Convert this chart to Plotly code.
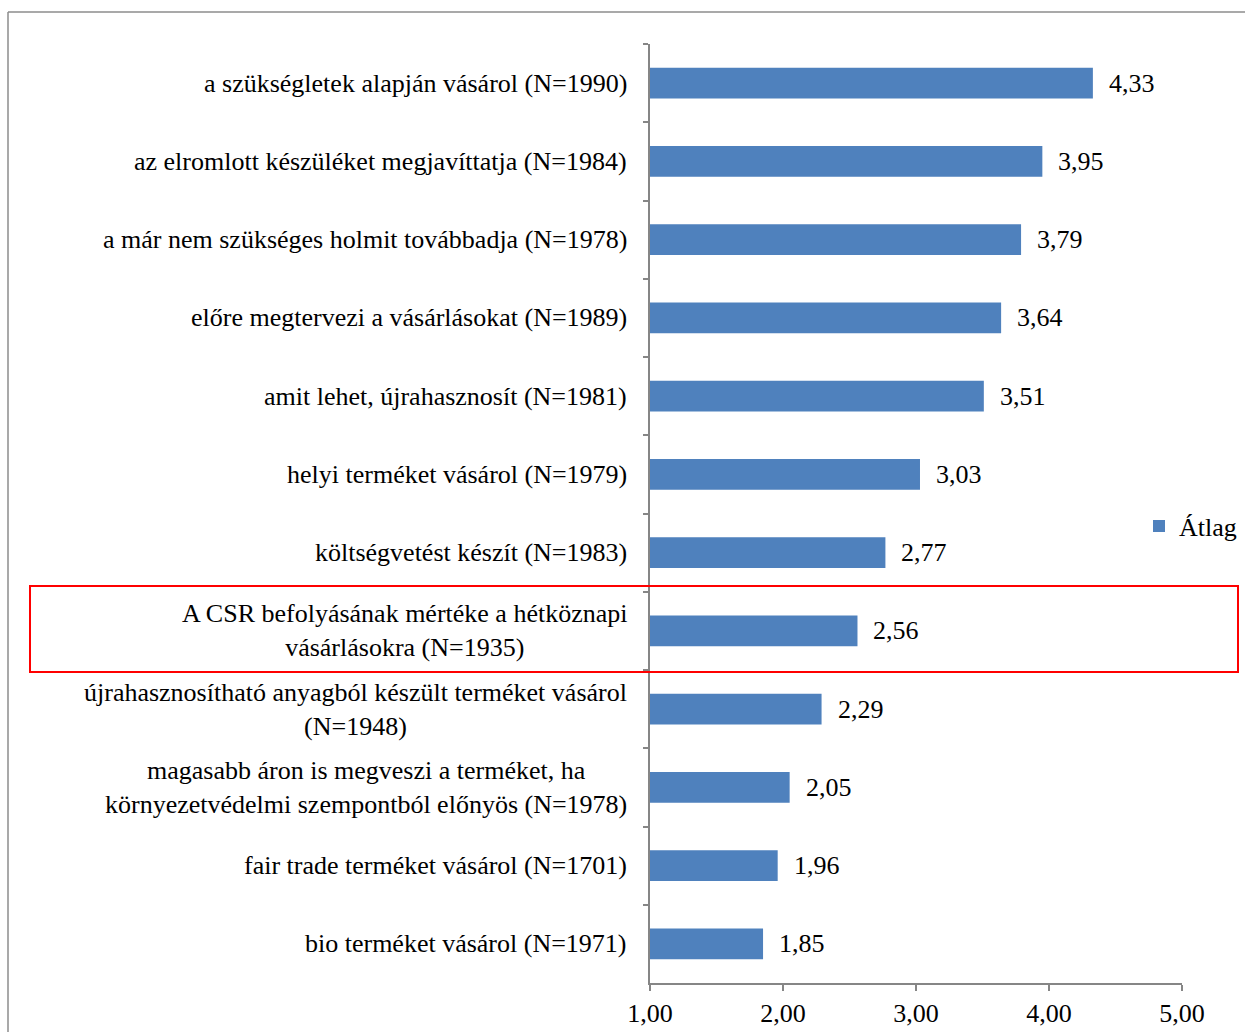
import plotly.graph_objects as go

categories = [
    "a szükségletek alapján vásárol (N=1990)",
    "az elromlott készüléket megjavíttatja (N=1984)",
    "a már nem szükséges holmit továbbadja (N=1978)",
    "előre megtervezi a vásárlásokat (N=1989)",
    "amit lehet, újrahasznosít (N=1981)",
    "helyi terméket vásárol (N=1979)",
    "költségvetést készít (N=1983)",
    "A CSR befolyásának mértéke a hétköznapi<br>vásárlásokra (N=1935)",
    "újrahasznosítható anyagból készült terméket vásárol<br>(N=1948)",
    "magasabb áron is megveszi a terméket, ha<br>környezetvédelmi szempontból előnyös (N=1978)",
    "fair trade terméket vásárol (N=1701)",
    "bio terméket vásárol (N=1971)",
]
values = [4.33, 3.95, 3.79, 3.64, 3.51, 3.03, 2.77, 2.56, 2.29, 2.05, 1.96, 1.85]
series_name = "Átlag"
x_ticks = [1, 2, 3, 4, 5]
highlight = "A CSR befolyásának mértéke a hétköznapi<br>vásárlásokra (N=1935)"

FONT = "Liberation Serif, Times New Roman, serif"
FS = 26
W, H = 1245, 1032
ML, MR, MT, MB = 650, 63, 44, 49
pw, ph = W - ML - MR, H - MT - MB

def px_x(x):
    return (x - ML) / pw

def px_y(y):
    return (H - MB - y) / ph

fig = go.Figure()
fig.add_trace(go.Bar(
    x=values, y=categories, orientation="h", name=series_name,
    marker=dict(color="#4F81BD", line=dict(width=0)),
    showlegend=True,
))

annotations = []
for c, v in zip(categories, values):
    annotations.append(dict(
        x=v, y=c, xref="x", yref="y", text=f"{v:.2f}".replace(".", ","),
        showarrow=False, xanchor="left", xshift=14,
        font=dict(family=FONT, size=FS, color="black"),
    ))
    annotations.append(dict(
        x=0, y=c, xref="paper", yref="y", text=c,
        showarrow=False, xanchor="right", xshift=-21, align="center",
        font=dict(family=FONT, size=FS, color="black"),
    ))

shapes = [
    # outer frame
    dict(type="line", xref="paper", yref="paper", x0=px_x(8), x1=px_x(1260),
         y0=px_y(12), y1=px_y(12), line=dict(color="#8C8C8C", width=1.5)),
    dict(type="line", xref="paper", yref="paper", x0=px_x(8), x1=px_x(8),
         y0=px_y(12), y1=px_y(1040), line=dict(color="#8C8C8C", width=1.5)),
    # highlight box
    dict(type="rect", xref="paper", yref="paper", x0=px_x(30), x1=px_x(1238),
         y0=px_y(586), y1=px_y(672), line=dict(color="#FF0000", width=2),
         fillcolor="rgba(0,0,0,0)"),
]

fig.update_layout(
    width=W, height=H,
    margin=dict(l=ML, r=MR, t=MT, b=MB, autoexpand=False),
    paper_bgcolor="white", plot_bgcolor="white",
    separators=", ",
    bargap=0.61,
    font=dict(family=FONT, size=FS, color="black"),
    xaxis=dict(
        range=[1, 5], tickvals=x_ticks, tickformat=".2f",
        showgrid=False, zeroline=False,
        showline=True, linecolor="#868686", linewidth=1.5,
        ticks="outside", ticklen=6, tickcolor="#868686", tickwidth=1.5,
        tickfont=dict(family=FONT, size=FS, color="black"),
    ),
    yaxis=dict(
        categoryorder="array", categoryarray=categories, autorange="reversed",
        showticklabels=False, showgrid=False, zeroline=False,
        showline=True, linecolor="#868686", linewidth=1.5,
        ticks="outside", ticklen=5, tickcolor="#868686", tickwidth=1.5,
        tickson="boundaries",
    ),
    legend=dict(
        x=px_x(1139), y=px_y(526), xanchor="left", yanchor="middle",
        font=dict(family=FONT, size=FS, color="black"),
        bgcolor="rgba(0,0,0,0)", itemwidth=30,
    ),
    annotations=annotations,
    shapes=shapes,
)

fig.write_html("out.html")
